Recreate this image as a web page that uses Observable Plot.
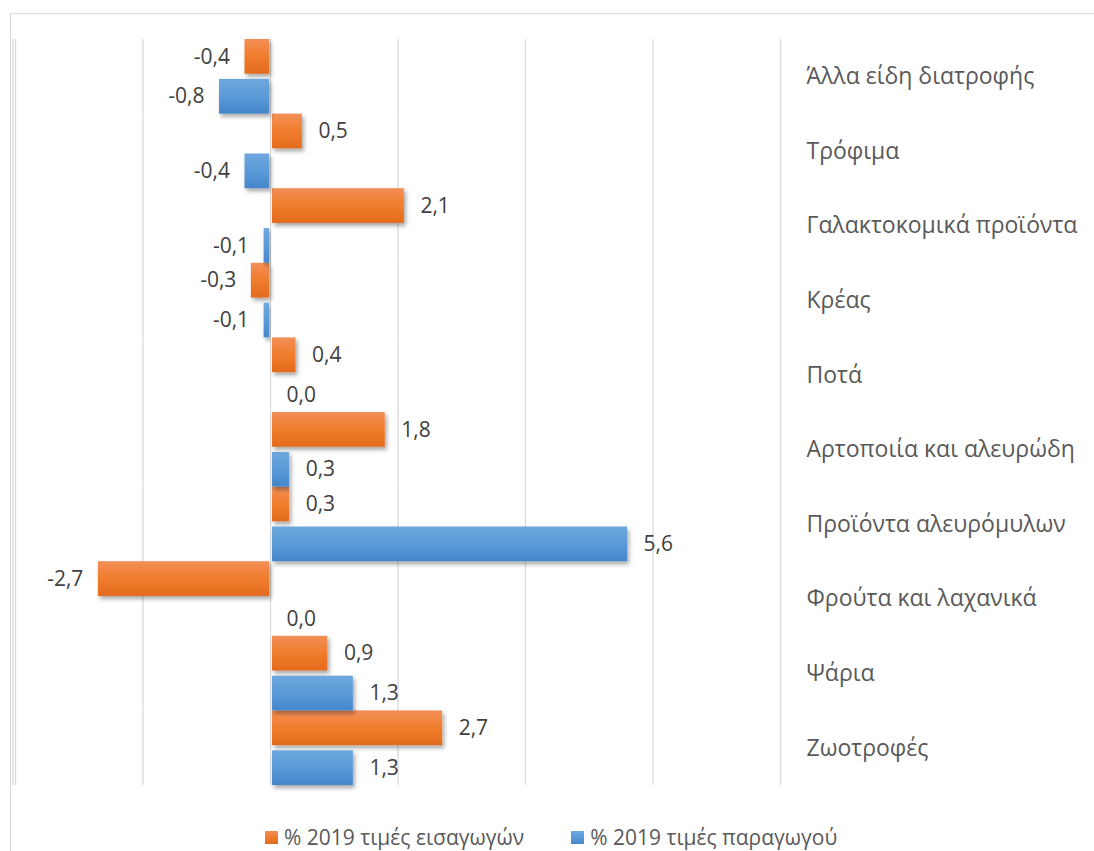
<!DOCTYPE html>
<html><head><meta charset="utf-8">
<script src="https://cdn.jsdelivr.net/npm/d3@7"></script>
<script src="https://cdn.jsdelivr.net/npm/@observablehq/plot@0.6"></script>
<style>
html,body{margin:0;padding:0;background:#fff;width:1094px;height:851px;overflow:hidden;font-family:"Open Sans",sans-serif;}
#frame{position:absolute;left:10px;top:13px;width:1200px;height:1000px;border:1px solid #d9d9d9;box-sizing:border-box;}
#chart{position:absolute;left:0;top:0;}
#legend{position:absolute;top:823px;left:265px;display:flex;align-items:center;font-size:21px;color:#595959;white-space:nowrap;}
.item{display:flex;align-items:center;}
.sw{width:13px;height:13px;margin-right:6px;}
</style></head>
<body>
<div id="frame"></div>
<div id="chart"></div>
<div id="legend"></div>
<script>
const categories = ["Άλλα είδη διατροφής","Τρόφιμα","Γαλακτοκομικά προϊόντα","Κρέας","Ποτά","Αρτοποιία και αλευρώδη","Προϊόντα αλευρόμυλων","Φρούτα και λαχανικά","Ψάρια","Ζωοτροφές"];
const importValues = [-0.4, 0.5, 2.1, -0.3, 0.4, 1.8, 0.3, -2.7, 0.9, 2.7];
const producerValues = [-0.8, -0.4, -0.1, -0.1, 0.0, 0.3, 5.6, 0.0, 1.3, 1.3];
const seriesNames = ["% 2019 τιμές εισαγωγών", "% 2019 τιμές παραγωγού"];
const xTicks = [-4, -2, 0, 2, 4, 6, 8];

const rows = categories.flatMap((c, i) => [
  {category: c, series: seriesNames[0], value: importValues[i]},
  {category: c, series: seriesNames[1], value: producerValues[i]}
]);
const fmt = v => v.toFixed(1).replace(".", ",");
const grads = {[seriesNames[0]]: "url(#gradOrange)", [seriesNames[1]]: "url(#gradBlue)"};

function bars(series, neg) {
  const data = rows.filter(d => d.series === series && (neg ? d.value < 0 : d.value >= 0));
  return Plot.barX(data, {fy: "category", y: "series", x: "value", fill: grads[series],
    insetLeft: neg ? 0 : 2, insetRight: neg ? 1 : 0});
}

const chart = Plot.plot({
  width: 1094, height: 800,
  marginLeft: 15, marginRight: 314, marginTop: 39, marginBottom: 15,
  style: {fontFamily: "'Open Sans', sans-serif", background: "transparent"},
  x: {domain: [-4, 8], axis: null},
  y: {domain: seriesNames, paddingInner: 0.13, paddingOuter: 0, round: false, axis: null},
  fy: {domain: categories, padding: 0, round: false},
  marks: [
    Plot.ruleX(xTicks, {stroke: "#d9d9d9", strokeWidth: 1.3}),
    Plot.ruleX([-4], {stroke: "#d9d9d9", strokeWidth: 1.3, dx: -2.5}),
    bars(seriesNames[0], true), bars(seriesNames[0], false),
    bars(seriesNames[1], true), bars(seriesNames[1], false),
    Plot.text(rows.filter(d => d.value < 0), {fy: "category", y: "series", x: "value", text: d => fmt(d.value),
      textAnchor: "end", dx: -15, fontSize: 21, fill: "#404040"}),
    Plot.text(rows.filter(d => d.value >= 0), {fy: "category", y: "series", x: "value", text: d => fmt(d.value),
      textAnchor: "start", dx: 16, fontSize: 21, fill: "#404040"}),
    Plot.axisFy({anchor: "right", tickSize: 0, tickPadding: 26, textAnchor: "start", fontSize: 23, fill: "#595959", label: null})
  ]
});

const svg = d3.select(chart);
const defs = svg.insert("defs", ":first-child");
const og = defs.append("linearGradient").attr("id", "gradOrange").attr("x1", 0).attr("y1", 0).attr("x2", 0).attr("y2", 1);
og.append("stop").attr("offset", "0%").attr("stop-color", "#F28F57");
og.append("stop").attr("offset", "50%").attr("stop-color", "#F07D2D");
og.append("stop").attr("offset", "100%").attr("stop-color", "#E36A1C");
const bg = defs.append("linearGradient").attr("id", "gradBlue").attr("x1", 0).attr("y1", 0).attr("x2", 0).attr("y2", 1);
bg.append("stop").attr("offset", "0%").attr("stop-color", "#6EA7DE");
bg.append("stop").attr("offset", "50%").attr("stop-color", "#5A9BD8");
bg.append("stop").attr("offset", "100%").attr("stop-color", "#4486CA");
const f = defs.append("filter").attr("id", "shadow").attr("x", "-20%").attr("y", "-30%").attr("width", "150%").attr("height", "180%");
f.append("feDropShadow").attr("dx", 2).attr("dy", 3).attr("stdDeviation", 2.2).attr("flood-color", "#000").attr("flood-opacity", 0.35);
svg.selectAll("g[aria-label='bar'] rect").attr("filter", "url(#shadow)");
document.getElementById("chart").appendChild(chart);

const legend = d3.select("#legend");
const swatch = ["linear-gradient(#F28F57,#F07D2D,#E36A1C)", "linear-gradient(#6EA7DE,#5A9BD8,#4486CA)"];
seriesNames.forEach((s, i) => {
  const it = legend.append("div").attr("class", "item").style("margin-right", i === 0 ? "47px" : "0");
  it.append("div").attr("class", "sw").style("background", swatch[i]);
  it.append("span").text(s);
});
</script>
</body></html>
